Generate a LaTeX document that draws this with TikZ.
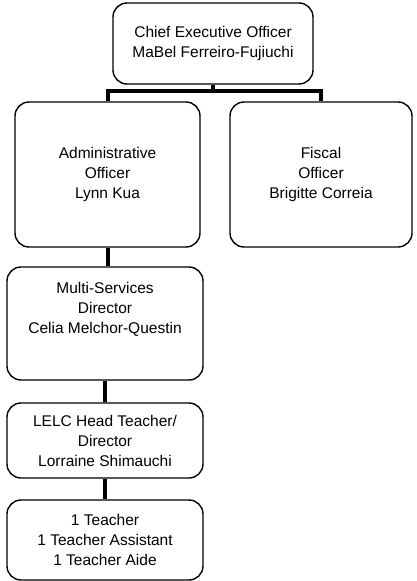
\documentclass[tikz,border=0pt]{standalone}
\usepackage{fontspec}
\setmainfont{Liberation Sans}
\newcommand{\lw}{1.4pt}

\begin{document}
\begin{tikzpicture}[x=1pt, y=-1pt,
    box/.style={draw, rectangle, rounded corners=14pt, line width=\lw, align=center, inner sep=0pt, font=\fontsize{15.5}{20}\selectfont},
    conn/.style={line width=4pt}]
    \useasboundingbox (0,0) rectangle (417,581);

    % Top
    \node[box, minimum width=200pt, minimum height=81pt] (ceo) at (213,43.5) {Chief Executive Officer\\MaBel Ferreiro-Fujiuchi};

    % Second row
    \node[box, minimum width=185pt, minimum height=145pt] (admin) at (107.5,174.5) {Administrative\\Officer\\Lynn Kua};
    \node[box, minimum width=182pt, minimum height=145pt] (fiscal) at (321,174.5) {Fiscal\\Officer\\Brigitte Correia};

    % Left column
    \node[box, minimum width=196pt, minimum height=113pt] (multi) at (105,323.5) {Multi-Services\\Director\\Celia Melchor-Questin\\[12pt]};
    \node[box, minimum width=196pt, minimum height=75pt] (lelc) at (105,440.5) {LELC Head Teacher/\\Director\\Lorraine Shimauchi};
    \node[box, minimum width=196pt, minimum height=80pt] (staff) at (105,540) {1 Teacher\\1 Teacher Assistant\\1 Teacher Aide};

    % Lines
    \coordinate (bus) at (213,91);
    \draw[conn] (ceo.south) -- (bus);
    \draw[conn] (admin.north) |- (bus) -| (fiscal.north);
    \draw[conn] (admin.south) -- (admin.south |- multi.north);
    \draw[conn] (multi.south) -- (lelc.north);
    \draw[conn] (lelc.south) -- (staff.north);
\end{tikzpicture}
\end{document}
